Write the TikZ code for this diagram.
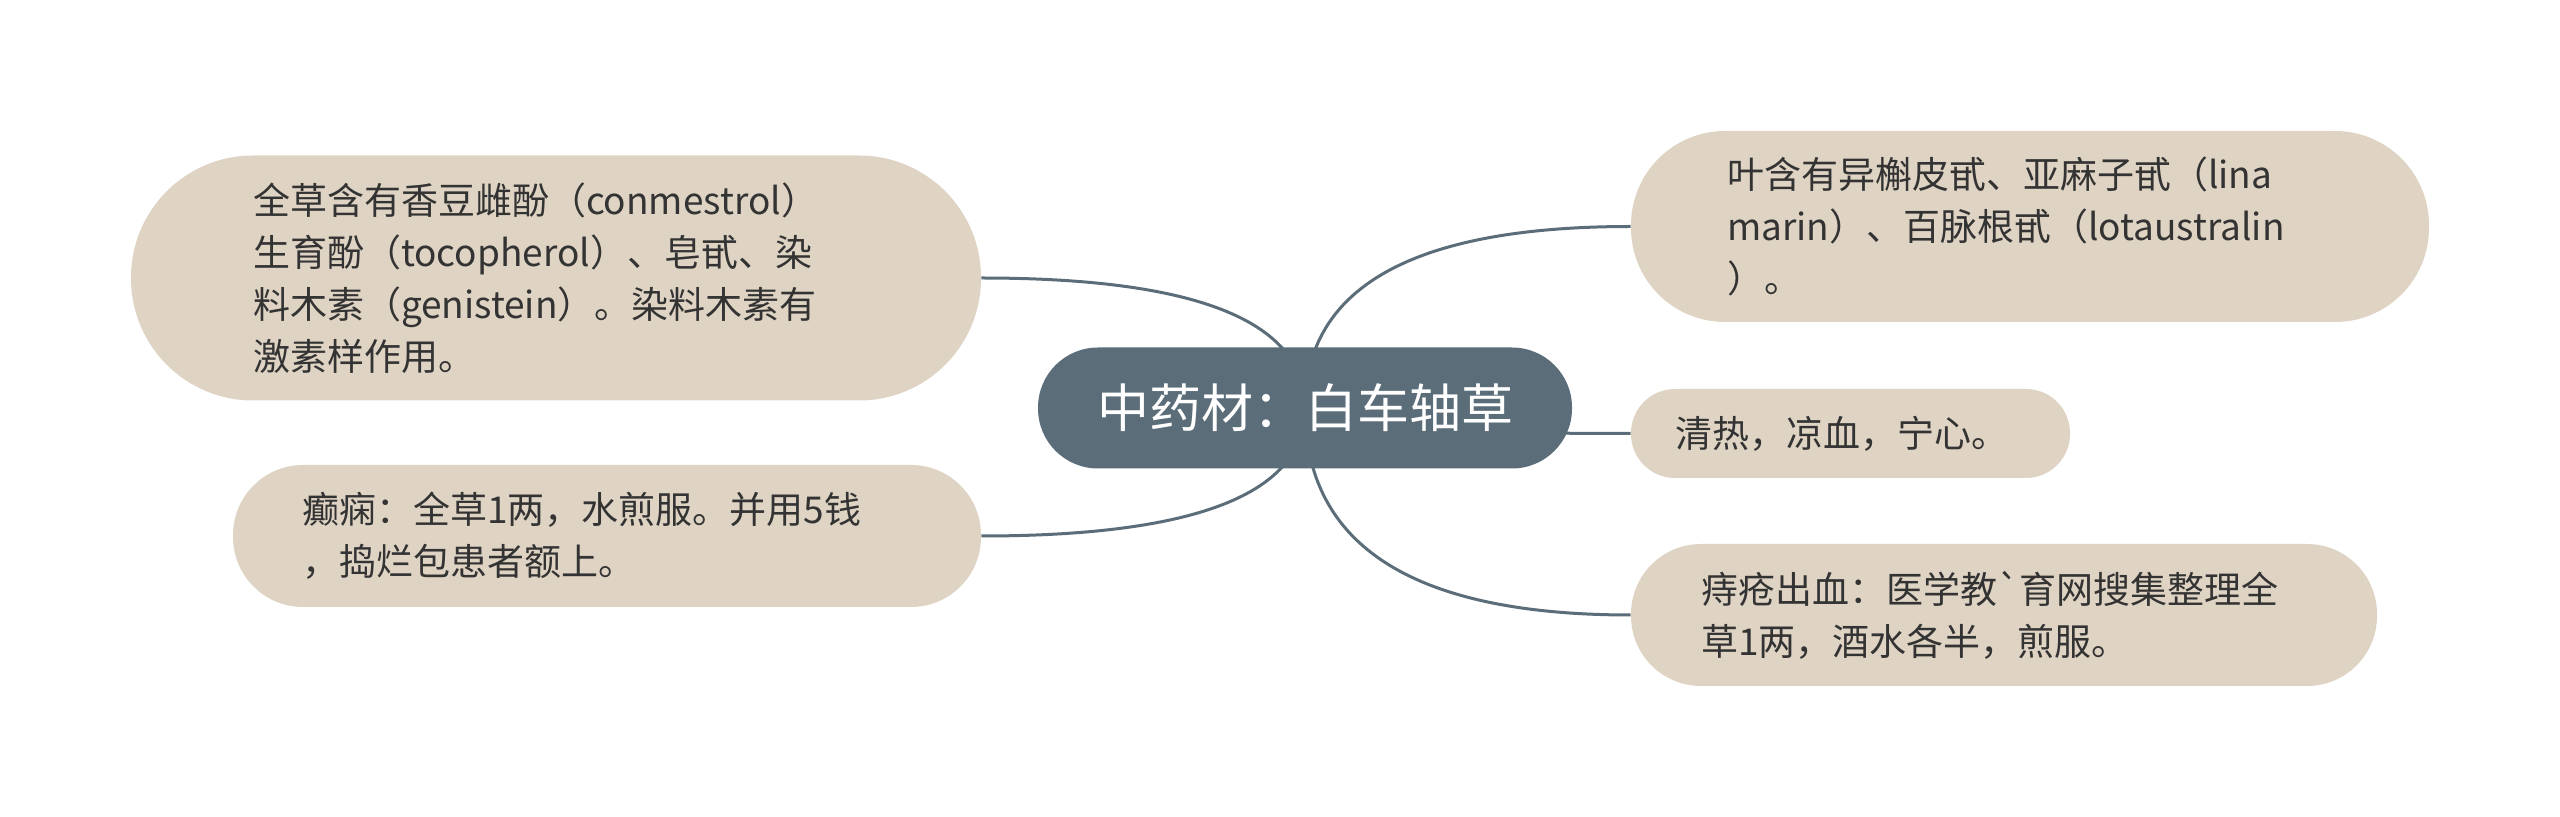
\documentclass[tikz,border=0pt]{standalone}
\usepackage{fontspec}
\setmainfont{Noto Sans CJK SC}[Ligatures=TeXOff]
\usepackage{tikz}
\usetikzlibrary{backgrounds, calc}
\definecolor{rootfill}{HTML}{5B6D79}
\definecolor{leaffill}{HTML}{DFD4C4}
\definecolor{linkcol}{HTML}{5B6D79}
\definecolor{inkcol}{HTML}{333333}
\tikzset{
  topic/.style={fill=rootfill, text=white, inner sep=0pt, rounded corners=30pt,
    minimum width=267pt, minimum height=60.5pt,
    font=\fontsize{26pt}{30pt}\selectfont},
  leaf/.style={fill=leaffill, text=inkcol, inner sep=0pt, text width=303pt, align=left,
    font=\fontsize{18.5pt}{26pt}\selectfont},
  link/.style={draw=linkcol, line width=1.5pt}
}

\begin{document}
\begin{tikzpicture}[x=0.5pt, y=-0.5pt]
  \useasboundingbox (0,0) rectangle (2560,817);
  \node[topic] (root) at (1305,408) {中药材：白车轴草};
  \node[leaf, minimum width=425pt, minimum height=122.5pt, rounded corners=61pt] (chem) at (556,278)
    {全草含有香豆雌酚（conmestrol）\\生育酚（tocopherol）、皂甙、染\\料木素（genistein）。染料木素有\\激素样作用。};
  \node[leaf, minimum width=374pt, minimum height=71pt, rounded corners=35pt, text width=305pt] (epil) at (607,536)
    {癫痫：全草1两，水煎服。并用5钱\\，捣烂包患者额上。};
  \node[leaf, minimum width=399pt, minimum height=95.5pt, rounded corners=47pt] (leafs) at (2030,226.5)
    {叶含有异槲皮甙、亚麻子甙（lina\\marin）、百脉根甙（lotaustralin\\）。};
  \node[leaf, minimum width=219.5pt, minimum height=44.5pt, rounded corners=22pt, text width=175.5pt] (effect) at (1850.5,433.5)
    {清热，凉血，宁心。};
  \node[leaf, minimum width=373pt, minimum height=71pt, rounded corners=35pt] (piles) at (2004,615)
    {痔疮出血：医学教`育网搜集整理全\\草1两，酒水各半，煎服。};
  \begin{scope}[on background layer]
    \fill[white] (0,0) rectangle (2560,817);
    \foreach \n/\a in {chem/east, epil/east, leafs/west, effect/west, piles/west} {
      \coordinate (k) at (root.center |- \n.\a);
      \draw[link] (root.center) .. controls ($(root.center)!0.667!(k)$) and ($(\n.\a)!0.667!(k)$) .. (\n.\a);
    }
  \end{scope}
\end{tikzpicture}
\end{document}
